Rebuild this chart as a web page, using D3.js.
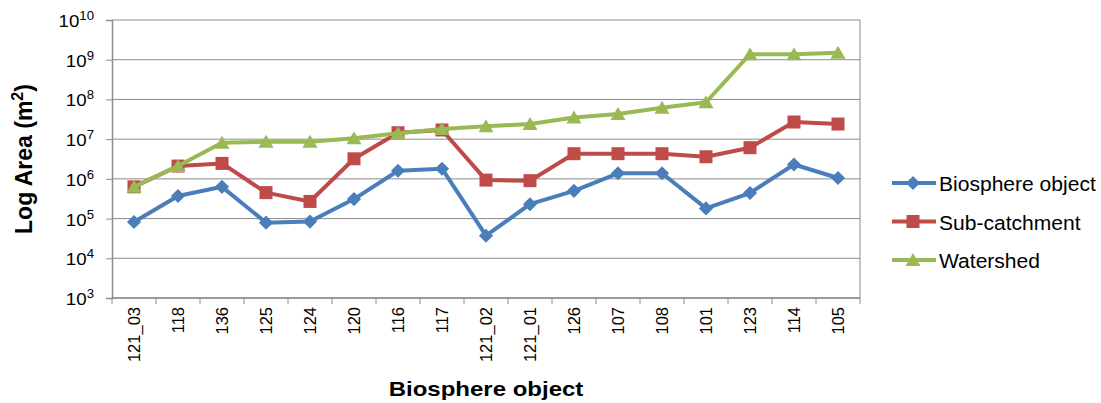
<!DOCTYPE html>
<html>
<head>
<meta charset="utf-8">
<script src="https://cdn.jsdelivr.net/npm/d3@7"></script>
<style>
  body { margin: 0; background: #fff; }
  svg { font-family: "Liberation Sans", Arial, sans-serif; }
</style>
</head>
<body>
<div id="space"></div>
<script>
var categories = ["121_03", "118", "136", "125", "124", "120", "116", "117", "121_02",
                  "121_01", "126", "107", "108", "101", "123", "114", "105"];

var biosphere = [8.2e4, 3.7e5, 6.3e5, 7.9e4, 8.4e4, 3.1e5, 1.6e6, 1.8e6, 3.7e4,
                 2.3e5, 5.0e5, 1.38e6, 1.38e6, 1.8e5, 4.4e5, 2.3e6, 1.05e6];
var subCatchment = [6.3e5, 2.1e6, 2.45e6, 4.5e5, 2.7e5, 3.2e6, 1.45e7, 1.7e7, 9.3e5,
                    9.0e5, 4.3e6, 4.3e6, 4.3e6, 3.6e6, 6.1e6, 2.7e7, 2.4e7];
var watershed = [6.3e5, 2.1e6, 8.1e6, 8.6e6, 8.6e6, 1.05e7, 1.4e7, 1.8e7, 2.1e7,
                 2.4e7, 3.5e7, 4.3e7, 6.2e7, 8.5e7, 1.38e9, 1.38e9, 1.5e9];

var yExponents = [3, 4, 5, 6, 7, 8, 9, 10];

var seriesNames = ["Biosphere object", "Sub-catchment", "Watershed"];
var seriesColors = ["#4A7EBB", "#BE4B48", "#98B954"];

var svg, x, y;

init();

//Marker shapes: diamond (rotated square), square, triangle
function markerPath(s) {
    if (s == 0) return d3.symbol().type(d3.symbolSquare).size(100)();
    if (s == 1) return d3.symbol().type(d3.symbolSquare).size(169)();
    return "M0,-7L7.5,6L-7.5,6Z";
}
function markerRotate(s) {
    return s == 0 ? " rotate(45)" : "";
}

function init() {
    svg = d3.select("#space").append("svg")
        .attr("width", 1101)
        .attr("height", 403);

    var left = 112, right = 860, top = 20, bottom = 298;
    var axisColor = "#8C8C8C";

    x = d3.scaleBand().domain(categories).range([left, right]).padding(0);
    y = d3.scaleLog().domain([1e3, 1e10]).range([bottom, top]);

    //Grid lines
    svg.append("g").selectAll("line")
        .data(yExponents)
        .enter().append("line")
        .attr("x1", left).attr("x2", right)
        .attr("y1", function (d) { return y(Math.pow(10, d)); })
        .attr("y2", function (d) { return y(Math.pow(10, d)); })
        .attr("stroke", axisColor)
        .attr("stroke-width", 1);

    //Right border
    svg.append("line")
        .attr("x1", right).attr("x2", right)
        .attr("y1", top).attr("y2", bottom)
        .attr("stroke", axisColor);

    //Y axis
    var yAxis = svg.append("g")
        .attr("transform", "translate(" + left + ",0)")
        .call(d3.axisLeft(y)
            .tickValues(yExponents.map(function (d) { return Math.pow(10, d); }))
            .tickSize(6)
            .tickFormat(""));
    yAxis.select(".domain").attr("stroke", axisColor).attr("stroke-width", 1.5);
    yAxis.selectAll(".tick line").attr("stroke", axisColor);

    var yLabels = svg.append("g").selectAll("text")
        .data(yExponents)
        .enter().append("text")
        .attr("transform", function (d) {
            return "translate(94," + (y(Math.pow(10, d)) + 7) + ") scale(1.1,1)";
        })
        .attr("text-anchor", "end")
        .attr("font-size", "17px")
        .attr("fill", "#000");
    yLabels.append("tspan").text("10");
    yLabels.append("tspan")
        .attr("dy", -7)
        .attr("font-size", "12px")
        .text(function (d) { return d; });

    //X axis
    var xTicks = d3.range(categories.length + 1);
    var xAxis = svg.append("g");
    xAxis.append("line")
        .attr("x1", left).attr("x2", right)
        .attr("y1", bottom).attr("y2", bottom)
        .attr("stroke", axisColor)
        .attr("stroke-width", 1.5);
    xAxis.selectAll(".xtick")
        .data(xTicks)
        .enter().append("line")
        .attr("class", "xtick")
        .attr("x1", function (i) { return left + i * x.bandwidth(); })
        .attr("x2", function (i) { return left + i * x.bandwidth(); })
        .attr("y1", bottom).attr("y2", bottom + 6)
        .attr("stroke", axisColor);

    xAxis.selectAll(".xlabel")
        .data(categories)
        .enter().append("text")
        .attr("class", "xlabel")
        .attr("transform", function (d) {
            return "translate(" + (x(d) + x.bandwidth() / 2 + 6) + "," + (bottom + 9) + ") rotate(-90)";
        })
        .attr("text-anchor", "end")
        .attr("font-size", "16.5px")
        .attr("fill", "#000")
        .text(function (d) { return d; });

    //Axis titles
    svg.append("text")
        .attr("transform", "translate(" + ((left + right) / 2) + ",396) scale(1.2,1)")
        .attr("text-anchor", "middle")
        .attr("font-size", "20px")
        .attr("font-weight", "bold")
        .text("Biosphere object");

    var yTitle = svg.append("text")
        .attr("transform", "translate(32," + ((top + bottom) / 2) + ") rotate(-90)")
        .attr("text-anchor", "middle")
        .attr("font-size", "23px")
        .attr("font-weight", "bold");
    yTitle.append("tspan").text("Log Area (m");
    yTitle.append("tspan").attr("dy", -9).attr("font-size", "16px").text("2");
    yTitle.append("tspan").attr("dy", 9).text(")");

    //Series
    var allSeries = [biosphere, subCatchment, watershed];
    var line = d3.line()
        .x(function (d, i) { return x(categories[i]) + x.bandwidth() / 2; })
        .y(function (d) { return y(d); });

    for (var s = 0; s < allSeries.length; s++) {
        var g = svg.append("g");
        g.append("path")
            .datum(allSeries[s])
            .attr("d", line)
            .attr("fill", "none")
            .attr("stroke", seriesColors[s])
            .attr("stroke-width", 4)
            .attr("stroke-linejoin", "round");

        g.selectAll("path.marker")
            .data(allSeries[s])
            .enter().append("path")
            .attr("class", "marker")
            .attr("d", markerPath(s))
            .attr("transform", function (d, i) {
                return "translate(" + (x(categories[i]) + x.bandwidth() / 2) + "," + y(d) + ")" + markerRotate(s);
            })
            .attr("fill", seriesColors[s]);
    }

    //Legend
    var legend = svg.append("g");
    for (var k = 0; k < seriesNames.length; k++) {
        var ly = 183 + k * 38.5;
        legend.append("line")
            .attr("x1", 892).attr("x2", 936)
            .attr("y1", ly).attr("y2", ly)
            .attr("stroke", seriesColors[k])
            .attr("stroke-width", 4);
        legend.append("path")
            .attr("d", markerPath(k))
            .attr("transform", "translate(913," + ly + ")" + markerRotate(k))
            .attr("fill", seriesColors[k]);
        legend.append("text")
            .attr("transform", "translate(939," + (ly + 8) + ") scale(1.08,1)")
            .attr("font-size", "19.5px")
            .text(seriesNames[k]);
    }
}
</script>
</body>
</html>
